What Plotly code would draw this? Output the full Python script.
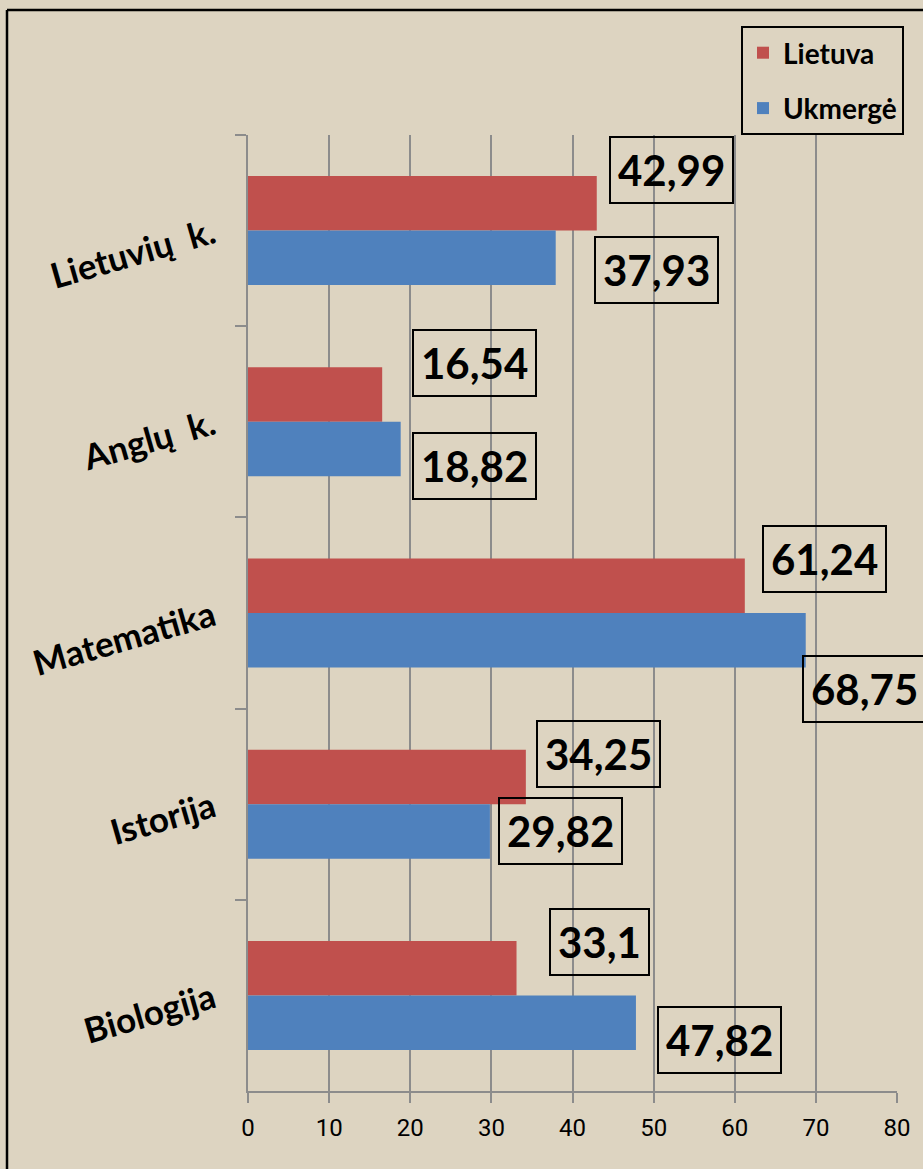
import plotly.graph_objects as go

# ---- data ----
categories = ["Lietuvių\u00a0 k.", "Anglų\u00a0 k.", "Matematika", "Istorija", "Biologija"]
lietuva = [42.99, 16.54, 61.24, 34.25, 33.1]
ukmerge = [37.93, 18.82, 68.75, 29.82, 47.82]
lietuva_labels = ["42,99", "16,54", "61,24", "34,25", "33,1"]
ukmerge_labels = ["37,93", "18,82", "68,75", "29,82", "47,82"]
x_ticks = [0, 10, 20, 30, 40, 50, 60, 70, 80]

# ---- layout / style constants ----
W, H = 923, 1169
ML, MR, MT, MB = 248, 26, 135, 78
BG = "#DDD4C1"
RED = "#C0504D"
BLUE = "#4F81BD"
GRID = "#8C8C8C"
# manual label nudges (pixels): horizontal from bar end, vertical from category centre
lt_nudge_x = [12, 30, 17, 10, 32]
lt_nudge_y = [-61, -59, -54, -50, -53]
uk_nudge_x = [38, 11, -4, 8, 21]
uk_nudge_y = [39, 44, 76, 27, 45]

fig = go.Figure()
fig.add_trace(go.Bar(y=categories, x=lietuva, orientation="h", name="Lietuva",
                     marker=dict(color=RED, line=dict(width=0)), legendgroup="a"))
fig.add_trace(go.Bar(y=categories, x=ukmerge, orientation="h", name="Ukmergė",
                     marker=dict(color=BLUE, line=dict(width=0)), legendgroup="b"))

label_font = dict(family="Lato, sans-serif", size=42, color="black", weight="bold")
annotations = []
for vals, labs, nx, ny in [(lietuva, lietuva_labels, lt_nudge_x, lt_nudge_y),
                           (ukmerge, ukmerge_labels, uk_nudge_x, uk_nudge_y)]:
    for c, v, t, dx, dy in zip(categories, vals, labs, nx, ny):
        annotations.append(dict(
            x=v, y=c, xref="x", yref="y", text=t, showarrow=False,
            xanchor="left", yanchor="middle", xshift=dx, yshift=-dy,
            font=label_font, bordercolor="black", borderwidth=2, borderpad=7,
            bgcolor="rgba(0,0,0,0)"))

pw = W - ML - MR
ph = H - MT - MB
def px_to_paper_x(px):
    return (px - ML) / pw
def px_to_paper_y(py):
    return (H - MB - py) / ph

shapes = [
    dict(type="line", xref="paper", yref="paper",
         x0=px_to_paper_x(7), x1=px_to_paper_x(7),
         y0=px_to_paper_y(10), y1=px_to_paper_y(H + 20),
         line=dict(color="black", width=2.5)),
    dict(type="line", xref="paper", yref="paper",
         x0=px_to_paper_x(7), x1=px_to_paper_x(W + 20),
         y0=px_to_paper_y(10), y1=px_to_paper_y(10),
         line=dict(color="black", width=2.5)),
]

fig.update_layout(
    width=W, height=H,
    margin=dict(l=ML, r=MR, t=MT, b=MB),
    paper_bgcolor=BG, plot_bgcolor=BG,
    barmode="group", bargap=0.43, bargroupgap=0,
    annotations=annotations, shapes=shapes,
    legend=dict(
        x=px_to_paper_x(741), y=px_to_paper_y(26), xanchor="left", yanchor="top",
        bordercolor="black", borderwidth=2, bgcolor="rgba(0,0,0,0)",
        font=dict(family="Lato, sans-serif", size=28, color="black", weight="bold"),
        traceorder="grouped", tracegroupgap=16, itemwidth=30,
    ),
    xaxis=dict(
        range=[0, 80], tickvals=x_ticks, ticktext=[str(v) for v in x_ticks],
        showgrid=True, gridcolor=GRID, gridwidth=1.5, zeroline=False,
        showline=True, linecolor=GRID, linewidth=2,
        ticks="outside", ticklen=10, tickcolor=GRID, tickwidth=2,
        tickfont=dict(family="Liberation Sans Narrow, Roboto, sans-serif", size=24, color="black"),
        ticklabelstandoff=4,
        fixedrange=True,
    ),
    yaxis=dict(
        autorange="reversed", type="category",
        showgrid=False, zeroline=False,
        showline=True, linecolor=GRID, linewidth=2,
        ticks="outside", ticklen=11, tickcolor=GRID, tickwidth=2, tickson="boundaries",
        tickangle=-16,
        tickfont=dict(family="Lato, sans-serif", size=35, color="black", weight="bold"),
        ticklabelstandoff=26,
        fixedrange=True,
    ),
)

fig.write_html(
    "out.html",
    config={"displayModeBar": False},
    post_script="document.body.style.margin='0';document.body.style.background='%s';" % BG,
)
